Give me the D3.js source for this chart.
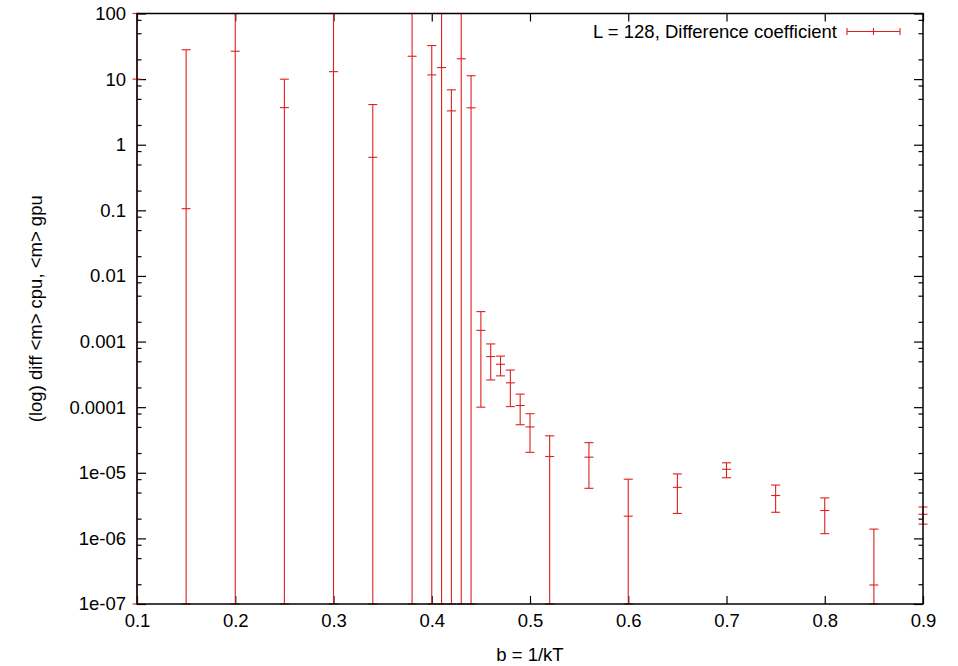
<!DOCTYPE html>
<html>
<head>
<meta charset="utf-8">
<script src="https://cdn.jsdelivr.net/npm/d3@7/dist/d3.min.js"></script>
<style>
  body { margin: 0; background: #fff; }
  svg { display: block; font-family: "Liberation Sans", Arial, sans-serif; }
</style>
</head>
<body>
<div id="chart"></div>
<script>
// data: beta, <m> difference and its error
const beta = [0.1, 0.15, 0.2, 0.25, 0.3, 0.34, 0.38, 0.4, 0.41, 0.42, 0.43, 0.44,
  0.45, 0.46, 0.47, 0.48, 0.49, 0.5, 0.52, 0.56, 0.6, 0.65, 0.7, 0.75, 0.8, 0.85, 0.9];
const diff = [10, 0.106, 26.6, 3.68, 13.0, 0.643, 22.3, 11.6, 15.0, 3.28, 20.4, 3.65,
  1.48e-3, 5.9e-4, 4.5e-4, 2.35e-4, 1.06e-4, 5.0e-5, 1.77e-5, 1.73e-5, 2.18e-6, 6.0e-6,
  1.13e-5, 4.5e-6, 2.66e-6, 1.95e-7, 2.33e-6];
const err = [150, 27.9, 120, 6.3, 150, 3.45, 100, 20.9, 110, 3.58, 100, 7.6,
  1.38e-3, 3.3e-4, 1.5e-4, 1.33e-4, 5.2e-5, 2.95e-5, 1.89e-5, 1.15e-5, 5.8e-6, 3.6e-6,
  2.9e-6, 2.0e-6, 1.48e-6, 1.19e-6, 6.8e-7];

const xTicks = [0.1, 0.2, 0.3, 0.4, 0.5, 0.6, 0.7, 0.8, 0.9];
const yTicks = [100, 10, 1, 0.1, 0.01, 0.001, 0.0001, 1e-5, 1e-6, 1e-7];
const yTickLabels = ["100", "10", "1", "0.1", "0.01", "0.001", "0.0001", "1e-05", "1e-06", "1e-07"];
const minorSteps = [2, 5, 8];
const legendLabel = "L = 128, Difference coefficient";

const width = 958, height = 666;
const margin = { top: 13.5, right: 35, bottom: 62, left: 137 };
const innerW = width - margin.left - margin.right;
const innerH = height - margin.top - margin.bottom;
const red = "#dd2020";
const fs = 18.5;

const svg = d3.select("#chart").append("svg")
  .attr("width", width).attr("height", height);
const g = svg.append("g")
  .attr("transform", `translate(${margin.left},${margin.top})`);

const x = d3.scaleLinear().domain([0.1, 0.9]).range([0, innerW]);
const y = d3.scaleLog().domain([1e-7, 100]).range([innerH, 0]);

// minor log ticks at 2, 5, 8 per decade
const yMinor = [];
for (let e = -7; e < 2; e++) minorSteps.forEach(m => yMinor.push(m * Math.pow(10, e)));

function style(sel) {
  sel.select(".domain").remove();
  sel.selectAll(".tick line").attr("stroke", "#000").attr("stroke-width", 1.2);
  sel.selectAll(".tick text").attr("fill", "#000").attr("font-size", fs)
    .attr("font-family", "Liberation Sans, Arial, sans-serif");
}

// y axis left with labels
g.append("g")
  .call(d3.axisLeft(y).tickValues(yTicks).tickFormat((d, i) => yTickLabels[i])
    .tickSize(-9).tickPadding(11))
  .call(style);
g.append("g")
  .call(d3.axisLeft(y).tickValues(yMinor).tickFormat("").tickSize(-4.5))
  .call(style);
// mirrored right
g.append("g").attr("transform", `translate(${innerW},0)`)
  .call(d3.axisRight(y).tickValues(yTicks).tickFormat("").tickSize(-9))
  .call(style);
g.append("g").attr("transform", `translate(${innerW},0)`)
  .call(d3.axisRight(y).tickValues(yMinor).tickFormat("").tickSize(-4.5))
  .call(style);
// x axis bottom and top
g.append("g").attr("transform", `translate(0,${innerH})`)
  .call(d3.axisBottom(x).tickValues(xTicks).tickFormat(d3.format(".1f"))
    .tickSize(-8).tickPadding(10))
  .call(style);
g.append("g")
  .call(d3.axisTop(x).tickValues(xTicks).tickFormat("").tickSize(-8))
  .call(style);

// error bars
const cap = 4.5;
const ymin = 1e-7, ymax = 100;
const clampY = v => (v <= ymin ? y(ymin) : v >= ymax ? y(ymax) : y(v));
const bars = g.append("g").attr("stroke", red).attr("stroke-width", 1.1).attr("fill", "none");
beta.forEach((b, i) => {
  const cx = x(b);
  const lo = clampY(diff[i] - err[i]);
  const hi = clampY(diff[i] + err[i]);
  const c = y(diff[i]);
  bars.append("line").attr("x1", cx).attr("x2", cx).attr("y1", lo).attr("y2", hi);
  [lo, hi, c].forEach(py => {
    bars.append("line").attr("x1", cx - cap).attr("x2", cx + cap).attr("y1", py).attr("y2", py);
  });
});

// border
g.append("rect").attr("width", innerW).attr("height", innerH)
  .attr("fill", "none").attr("stroke", "#000").attr("stroke-width", 1.5);

// legend
const legend = svg.append("g");
legend.append("text").attr("x", 837).attr("y", 38).attr("text-anchor", "end")
  .attr("font-size", fs).text(legendLabel);
const lg = legend.append("g").attr("stroke", red).attr("stroke-width", 1.1);
lg.append("line").attr("x1", 847).attr("x2", 900).attr("y1", 31.5).attr("y2", 31.5);
[847, 873.5, 900].forEach(px => {
  lg.append("line").attr("x1", px).attr("x2", px).attr("y1", 28).attr("y2", 35);
});

// axis titles
svg.append("text").attr("x", margin.left + innerW / 2).attr("y", 661)
  .attr("text-anchor", "middle").attr("font-size", fs).text("b = 1/kT");
svg.append("text")
  .attr("transform", `translate(42,${margin.top + innerH / 2}) rotate(-90)`)
  .attr("text-anchor", "middle").attr("font-size", fs)
  .text("(log) diff <m> cpu, <m> gpu");
</script>
</body>
</html>
